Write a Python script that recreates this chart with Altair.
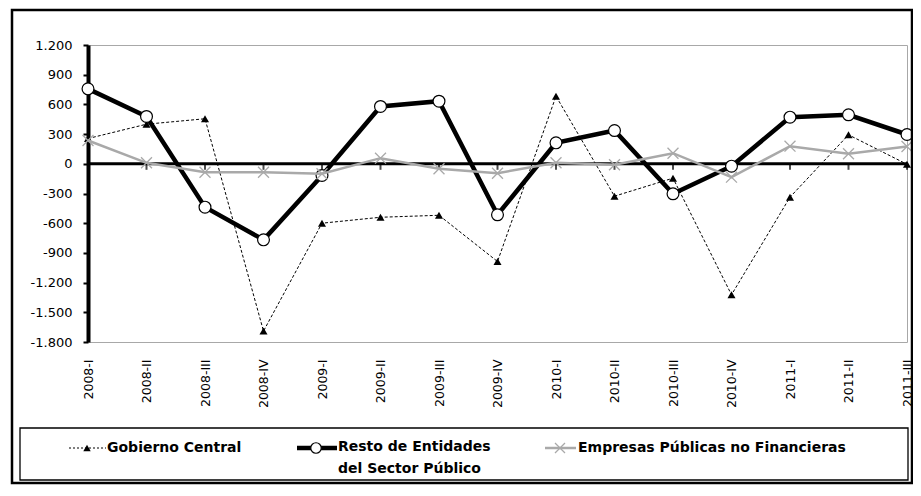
import altair as alt
import pandas as pd

periods = ["2008-I", "2008-II", "2008-III", "2008-IV",
           "2009-I", "2009-II", "2009-III", "2009-IV",
           "2010-I", "2010-II", "2010-III", "2010-IV",
           "2011-I", "2011-II", "2011-III"]

series_names = ["Gobierno Central",
                "Resto de Entidades del Sector Público",
                "Empresas Públicas no Financieras"]

gobierno = [255, 400, 455, -1690, -600, -540, -520, -987, 683, -327, -145, -1323, -337, 293, -5]
resto = [757, 478, -438, -768, -118, 579, 632, -515, 212, 336, -303, -24, 471, 495, 296]
empresas = [235, 10, -85, -85, -100, 57, -50, -95, 10, -10, 107, -135, 178, 101, 175]

y_ticks = [-1800, -1500, -1200, -900, -600, -300, 0, 300, 600, 900, 1200]

rows = []
for name, vals in zip(series_names, [gobierno, resto, empresas]):
    for p, v in zip(periods, vals):
        rows.append({"period": p, "series": name, "value": v})
df = pd.DataFrame(rows)
pdf = pd.DataFrame({"period": periods})
one = pd.DataFrame({"a": [0]})

GRAY = "#a9a9a9"
FONT = "DejaVu Sans"

x_axis = alt.Axis(title=None, labelAngle=270, labelAlign="right",
                  labelBaseline="middle", labelPadding=17,
                  ticks=False, domain=False, labelFont=FONT,
                  labelFontSize=12.5, labelColor="black",
                  labelOverlap=False)
y_axis = alt.Axis(values=y_ticks, title=None, grid=False,
                  domainColor="black", domainWidth=4,
                  tickColor="black", tickWidth=2, tickSize=5,
                  labelPadding=11, labelFont=FONT, labelFontSize=13,
                  labelColor="black", labelOverlap=False,
                  labelExpr="(datum.value < 0 ? '-' : '') + replace(format(abs(datum.value), ','), ',', '.')")
x_scale = alt.Scale(type="point", padding=0)
y_scale = alt.Scale(domain=[-1800, 1200], nice=False, zero=False)

base = alt.Chart(df).encode(
    x=alt.X("period:O", sort=periods, scale=x_scale, axis=x_axis),
    y=alt.Y("value:Q", scale=y_scale, axis=y_axis))

zero_line = alt.Chart(one).mark_rule(color="black", strokeWidth=3).encode(
    y=alt.Y(datum=0, type="quantitative", scale=y_scale, axis=y_axis))
zero_ticks = alt.Chart(pdf).mark_tick(orient="vertical", color="black", size=6,
                                      thickness=2, yOffset=3).encode(
    x=alt.X("period:O", sort=periods, scale=x_scale, axis=x_axis),
    y=alt.Y(datum=0, type="quantitative", scale=y_scale, axis=y_axis))

g = base.transform_filter(alt.datum.series == series_names[0])
r = base.transform_filter(alt.datum.series == series_names[1])
e = base.transform_filter(alt.datum.series == series_names[2])

g_line = g.mark_line(color="black", strokeWidth=1, strokeDash=[3, 2])
g_pts = g.mark_point(shape="triangle-up", filled=True, color="black", size=65, opacity=1)
r_line = r.mark_line(color="black", strokeWidth=4.5)
r_pts = r.mark_point(shape="circle", filled=True, fill="white", stroke="black",
                     strokeWidth=1.2, size=140, opacity=1)
X_PATH = "M-1,-1L1,1M-1,1L1,-1"
e_line = e.mark_line(color=GRAY, strokeWidth=2.5)
e_pts = e.mark_point(shape=X_PATH, filled=False, stroke=GRAY, strokeWidth=1.3,
                     size=120, opacity=1)

# decorative frames
outer = alt.Chart(one).mark_rect(fillOpacity=0, stroke="black", strokeWidth=2.5).encode(
    x=alt.value(-76), x2=alt.value(824), y=alt.value(-35), y2=alt.value(438))
legend_box = alt.Chart(one).mark_rect(fillOpacity=0, stroke="black", strokeWidth=1.3).encode(
    x=alt.value(-68), x2=alt.value(820), y=alt.value(383), y2=alt.value(435))

LY = 403
leg = []
# Gobierno
leg.append(alt.Chart(one).mark_rule(color="black", strokeWidth=1, strokeDash=[2, 2]).encode(
    x=alt.value(-19), x2=alt.value(18), y=alt.value(LY)))
leg.append(alt.Chart(one).mark_point(shape="triangle-up", filled=True, color="black",
                                     size=55, opacity=1).encode(
    x=alt.value(-1), y=alt.value(LY)))
leg.append(alt.Chart(one).mark_text(align="left", baseline="middle", font=FONT,
                                    fontWeight="bold", fontSize=14, color="black").encode(
    x=alt.value(19), y=alt.value(LY), text=alt.value(series_names[0])))
# Resto
leg.append(alt.Chart(one).mark_rule(color="black", strokeWidth=4.5).encode(
    x=alt.value(209), x2=alt.value(249), y=alt.value(LY)))
leg.append(alt.Chart(one).mark_point(shape="circle", filled=True, fill="white", stroke="black",
                                     strokeWidth=1.2, size=110, opacity=1).encode(
    x=alt.value(228), y=alt.value(LY)))
leg.append(alt.Chart(one).mark_text(align="left", baseline="top", font=FONT, lineBreak="\n",
                                    lineHeight=22, fontWeight="bold", fontSize=14,
                                    color="black").encode(
    x=alt.value(250), y=alt.value(LY - 8),
    text=alt.value("Resto de Entidades\ndel Sector Público")))
# Empresas
leg.append(alt.Chart(one).mark_rule(color=GRAY, strokeWidth=2.5).encode(
    x=alt.value(457), x2=alt.value(488), y=alt.value(LY)))
leg.append(alt.Chart(one).mark_point(shape=X_PATH, filled=False, stroke=GRAY, strokeWidth=1.3,
                                     size=100, opacity=1).encode(
    x=alt.value(472), y=alt.value(LY)))
leg.append(alt.Chart(one).mark_text(align="left", baseline="middle", font=FONT,
                                    fontWeight="bold", fontSize=14, color="black").encode(
    x=alt.value(490), y=alt.value(LY), text=alt.value(series_names[2])))

chart = alt.layer(zero_line, zero_ticks, g_line, g_pts, r_line, r_pts, e_line, e_pts,
                  outer, legend_box, *leg).properties(
    width=819, height=297,
    padding={"left": 80, "top": 37, "right": 6, "bottom": 144},
    autosize=alt.AutoSizeParams(type="none"),
    background="white",
).configure_view(stroke="#a8a8a8", strokeWidth=1)

chart.save("out.html", embed_options={"renderer": "svg", "actions": False})
